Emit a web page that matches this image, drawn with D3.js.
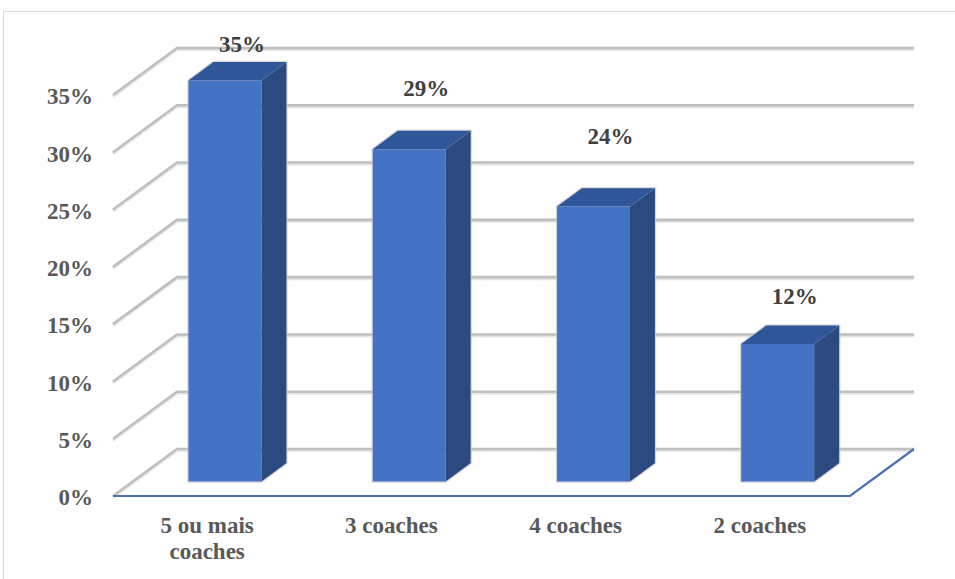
<!DOCTYPE html>
<html>
<head>
<meta charset="utf-8">
<script src="https://cdn.jsdelivr.net/npm/d3@7"></script>
<style>
  body { margin: 0; background: #fff; }
  svg { display: block; }
</style>
</head>
<body>
<svg id="chart"></svg>
<script>
// data
var categories = ["5 ou mais coaches", "3 coaches", "4 coaches", "2 coaches"];
var values = [35, 29, 24, 12];
var tickValues = [0, 5, 10, 15, 20, 25, 30, 35];

var width = 955, height = 579;
var svg = d3.select("#chart").attr("width", width).attr("height", height)
    .attr("font-family", "Liberation Serif");

// 3d box geometry
var left = 113, right = 850;     // front floor edge
var depthX = 64, depthY = -47;   // offset from front plane to back wall
var barFront = 0.31, barBack = 0.70;

var x = d3.scaleBand().domain(categories).range([left, right]).paddingInner(0).paddingOuter(0);
var y = d3.scaleLinear().domain([0, 35]).range([496, 95]);

function pt(px, v, f) {
    return [px + f * depthX, y(v) + f * depthY];
}

function labelFont(sel) {
    sel.attr("font-family", "Liberation Serif")
        .attr("font-weight", "bold")
        .attr("font-size", 23)
        .style("font-family", "'Liberation Serif'")
        .style("font-weight", "bold")
        .style("font-size", "23px");
}

// chart frame
svg.append("rect")
    .attr("x", 3.5).attr("y", 11.5)
    .attr("width", 1000).attr("height", 700)
    .attr("fill", "none")
    .attr("stroke", "#d9d9d9")
    .attr("stroke-width", 1);

// grid lines: side wall diagonals + back wall horizontals
var grid = svg.append("g");
tickValues.forEach(function(t) {
    var a = pt(left, t, 0), b = pt(left, t, 1), c = pt(right, t, 1);
    var d = "M" + a + "L" + b + "L" + c;
    grid.append("path").attr("d", d)
        .attr("transform", "translate(0,1.5)")
        .attr("fill", "none").attr("stroke", "#e6e6e6").attr("stroke-width", 3);
    grid.append("path").attr("d", d)
        .attr("fill", "none").attr("stroke", "#bfbfbf").attr("stroke-width", 2.6);
});

// floor front and right edges
var f0 = pt(left, 0, 0), f1 = pt(right, 0, 0), f2 = pt(right, 0, 1);
svg.append("path")
    .attr("d", "M" + f0 + "L" + f1 + "L" + f2)
    .attr("fill", "none").attr("stroke", "#4a6fb5").attr("stroke-width", 2.2);

// bars
var bw = x.bandwidth() * 0.396;
var bars = svg.append("g").selectAll("g")
    .data(categories.map(function(c, i) { return { cat: c, v: values[i] }; }))
    .enter().append("g");

function poly(pts) { return pts.map(function(p) { return p.join(","); }).join(" "); }

bars.each(function(d) {
    var g = d3.select(this);
    var x0 = x(d.cat) + (x.bandwidth() - bw) / 2, x1 = x0 + bw;
    var fl = pt(x0, 0, barFront), fr = pt(x1, 0, barFront);
    var tl = pt(x0, d.v, barFront), tr = pt(x1, d.v, barFront);
    var br = pt(x1, 0, barBack), btr = pt(x1, d.v, barBack), btl = pt(x0, d.v, barBack);
    // soft shadow
    g.append("polygon")
        .attr("points", poly([tl, btl, btr, br, fr, fl]))
        .attr("fill", "none").attr("stroke", "#c8c8c8").attr("stroke-width", 2.5).attr("opacity", 0.7);
    g.append("polygon").attr("points", poly([fl, fr, tr, tl])).attr("fill", "#4472c4");
    g.append("polygon").attr("points", poly([fr, br, btr, tr])).attr("fill", "#2b4a7f");
    g.append("polygon").attr("points", poly([tl, tr, btr, btl])).attr("fill", "#30569a");
});

// value labels (lifted by hand like the original)
var labelLift = [10, 35, 44, 22];
svg.append("g").selectAll("text")
    .data(values)
    .enter().append("text")
    .attr("x", function(d, i) { return x(categories[i]) + x.bandwidth() / 2 + 0.31 * depthX + 17; })
    .attr("y", function(d, i) { return pt(0, d, barBack)[1] - labelLift[i]; })
    .attr("text-anchor", "middle")
    .attr("fill", "#404040")
    .call(labelFont)
    .text(function(d) { return d + "%"; });

// y axis
var yAxis = svg.append("g")
    .attr("transform", "translate(" + left + ",0)")
    .call(d3.axisLeft(y).tickValues(tickValues).tickSize(0).tickPadding(20)
        .tickFormat(function(d) { return d + "%"; }));
yAxis.attr("font-family", "Liberation Serif");
yAxis.select(".domain").remove();
yAxis.selectAll("text")
    .attr("fill", "#595959")
    .attr("dy", "0.38em")
    .call(labelFont);

// x labels
var xLabels = svg.append("g").selectAll("text")
    .data(categories)
    .enter().append("text")
    .attr("x", function(d) { return x(d) + x.bandwidth() / 2 + 2; })
    .attr("y", 533)
    .attr("text-anchor", "middle")
    .attr("fill", "#595959")
    .call(labelFont);

xLabels.each(function(d) {
    var t = d3.select(this);
    var lines = d === "5 ou mais coaches" ? ["5 ou mais", "coaches"] : [d];
    lines.forEach(function(l, i) {
        t.append("tspan")
            .attr("x", t.attr("x"))
            .attr("dy", i === 0 ? 0 : 26)
            .text(l);
    });
});

// make sure the serif face is resolved before the page is captured
svg.selectAll("text").each(function() {
    getComputedStyle(this).fontFamily;
    this.getComputedTextLength();
});
</script>
</body>
</html>
